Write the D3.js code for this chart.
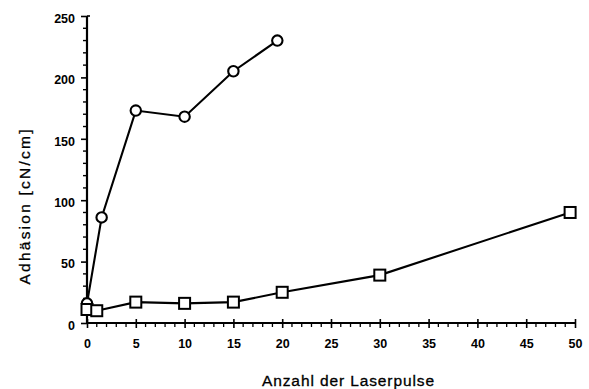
<!DOCTYPE html>
<html>
<head>
<meta charset="utf-8">
<script src="https://cdn.jsdelivr.net/npm/d3@7"></script>
<style>
  html, body { margin: 0; padding: 0; background: #fff; }
  svg { display: block; font-family: "Liberation Sans", Arial, sans-serif; }
</style>
</head>
<body>
<div id="chart"></div>
<script>
// Data
const circleX = [0, 1.5, 5, 10, 15, 19.5];
const circleY = [16, 86, 173, 168, 205, 230];
const squareX = [0, 1, 5, 10, 15, 20, 30, 49.5];
const squareY = [11, 10, 17, 16, 17, 25, 39, 90];
const xTicks = [0, 5, 10, 15, 20, 25, 30, 35, 40, 45, 50];
const yTicks = [0, 50, 100, 150, 200, 250];

const width = 589, height = 389;
const ink = "#000";

const svg = d3.select("#chart").append("svg")
    .attr("width", width)
    .attr("height", height);

const x = d3.scaleLinear().domain([0, 50]).range([87, 575]);
const y = d3.scaleLinear().domain([0, 250]).range([323, 16]);

// Y axis: major ticks every 50, minor every 10
const yAxis = d3.axisLeft(y).tickValues(yTicks).tickSize(6).tickPadding(6);
const yg = svg.append("g").attr("transform", `translate(${x(0)},0)`).call(yAxis);
yg.select(".domain").attr("stroke", ink).attr("stroke-width", 2.2).attr("d", `M0,${y(250)}V${y(0)}`);
yg.selectAll(".tick line").attr("stroke", ink).attr("stroke-width", 1.6);
yg.selectAll(".tick text").attr("font-size", 12.5).attr("font-weight", "bold")
    .attr("fill", ink).attr("dy", "0.5em");
yg.selectAll(".minor").data(d3.range(0, 251, 10).filter(v => v % 50 !== 0))
    .join("line").attr("class", "minor")
    .attr("x1", -4).attr("x2", 0)
    .attr("y1", d => y(d)).attr("y2", d => y(d))
    .attr("stroke", ink).attr("stroke-width", 1.4);
// small cap at the top of the axis
yg.append("line").attr("x1", 0).attr("x2", 3).attr("y1", y(250)).attr("y2", y(250))
    .attr("stroke", ink).attr("stroke-width", 1.6);

// X axis: major ticks crossing, minor every 1
const xAxis = d3.axisBottom(x).tickValues(xTicks).tickSize(5).tickPadding(11);
const xg = svg.append("g").attr("transform", `translate(0,${y(0)})`).call(xAxis);
xg.select(".domain").attr("stroke", ink).attr("stroke-width", 2.2).attr("d", `M${x(0)},0H${x(50)}`);
xg.selectAll(".tick line").attr("stroke", ink).attr("stroke-width", 1.6).attr("y1", -4);
xg.selectAll(".tick text").attr("font-size", 12.5).attr("font-weight", "bold").attr("fill", ink);
xg.selectAll(".minor").data(d3.range(0, 51, 1).filter(v => v % 5 !== 0))
    .join("line").attr("class", "minor")
    .attr("x1", d => x(d)).attr("x2", d => x(d))
    .attr("y1", 0).attr("y2", 4)
    .attr("stroke", ink).attr("stroke-width", 1.3);

// Axis titles
svg.append("text")
    .attr("x", 348).attr("y", 386)
    .attr("text-anchor", "middle")
    .attr("font-size", 15.5)
    .attr("textLength", 172).attr("lengthAdjust", "spacing")
    .attr("fill", ink).attr("stroke", ink).attr("stroke-width", 0.3)
    .text("Anzahl der Laserpulse");

svg.append("text")
    .attr("transform", "translate(29.5,207) rotate(-90)")
    .attr("text-anchor", "middle")
    .attr("font-size", 15.5)
    .attr("textLength", 155).attr("lengthAdjust", "spacing")
    .attr("fill", ink).attr("stroke", ink).attr("stroke-width", 0.3)
    .text("Adhäsion [cN/cm]");

const line = d3.line().x(d => x(d[0])).y(d => y(d[1]));

// Circle series
const circles = circleX.map((v, i) => [v, circleY[i]]);
svg.append("path").datum(circles)
    .attr("d", line).attr("fill", "none")
    .attr("stroke", ink).attr("stroke-width", 2.1);
svg.selectAll(".ci").data(circles).join("circle").attr("class", "ci")
    .attr("cx", d => x(d[0])).attr("cy", d => y(d[1]))
    .attr("r", 5.2)
    .attr("fill", "#fff").attr("stroke", ink).attr("stroke-width", 2.1);

// Square series
const squares = squareX.map((v, i) => [v, squareY[i]]);
svg.append("path").datum(squares)
    .attr("d", line).attr("fill", "none")
    .attr("stroke", ink).attr("stroke-width", 2.1);
svg.selectAll(".sq").data(squares).join("rect").attr("class", "sq")
    .attr("x", d => x(d[0]) - 5.5).attr("y", d => y(d[1]) - 5.5)
    .attr("width", 11).attr("height", 11)
    .attr("fill", "#fff").attr("stroke", ink).attr("stroke-width", 2);
</script>
</body>
</html>
